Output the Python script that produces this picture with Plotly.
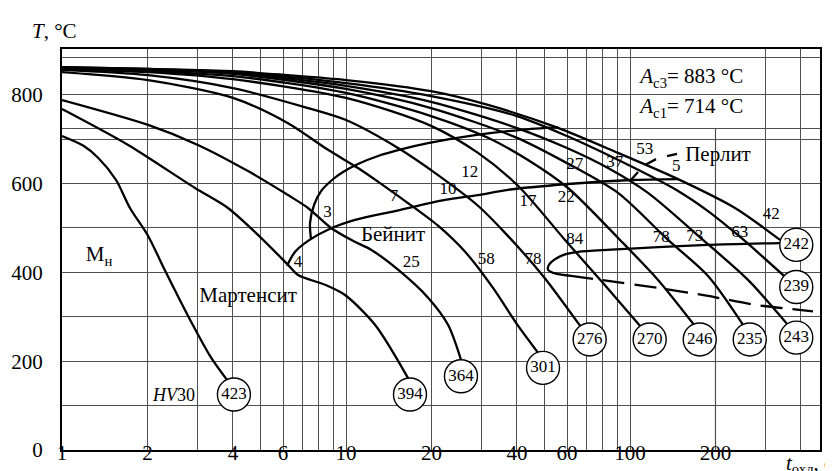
import math
import plotly.graph_objects as go

# ---------------- data ----------------
# cooling curves: time t (s) and temperature T (degC)
curve_A_t = [1.00, 1.19, 1.34, 1.55, 1.735, 2.01, 2.31, 2.80, 3.35, 3.81]
curve_A_T = [707, 685, 658, 608, 545, 482, 403, 298, 208, 158]
curve_B_t = [1.00, 1.71, 2.94, 3.84, 4.98, 6.25, 6.78, 8.44, 9.92, 12.65, 16.67]
curve_B_T = [768, 687, 590, 545, 480, 417, 394, 372, 349, 282, 158]
curve_C_t = [1.00, 2.01, 3.01, 4.52, 6.25, 7.35, 8.86, 10.58, 12.25, 15.25, 19.45, 22.87, 25.41]
curve_C_T = [788, 732, 687, 628, 574, 545, 500, 471, 451, 406, 343, 282, 203]
curve_D_t = [1.00, 2.01, 4.00, 6.25, 8.64, 11.02, 13.18, 16.53, 21.09, 26.46, 32.93, 40.33, 47.44]
curve_D_T = [851, 833, 793, 736, 676, 635, 601, 556, 505, 444, 365, 280, 219]
curve_E_t = [1.00, 2.01, 4.00, 7.35, 10.0, 15.25, 21.09, 29.16, 36.30, 49.40, 66.68]
curve_E_T = [856, 844, 815, 770, 743, 680, 619, 550, 489, 392, 280]
curve_F_t = [1.00, 2.01, 4.00, 10.0, 19.93, 29.16, 40.33, 59.04, 80.36, 108.4]
curve_F_T = [858, 851, 835, 793, 730, 669, 595, 473, 376, 280]
curve_G_t = [1.00, 2.01, 4.00, 10.0, 19.93, 31.62, 43.74, 60.49, 92.2, 125.5, 168.0]
curve_G_T = [860, 853, 842, 804, 752, 703, 653, 590, 473, 383, 282]
curve_H_t = [1.00, 2.01, 4.00, 10.0, 19.93, 40.0, 60.0, 90.73, 136.1, 188.2, 250.0]
curve_H_T = [860, 856, 847, 813, 770, 703, 646, 579, 473, 392, 282]
curve_I_t = [1.00, 2.01, 4.00, 10.0, 19.93, 40.0, 60.0, 83.68, 115.7, 180.7, 260.3, 357.1]
curve_I_T = [860, 856, 849, 820, 784, 725, 680, 635, 579, 473, 383, 284]
curve_J_t = [1.00, 2.01, 4.00, 10.0, 19.93, 40.0, 60.0, 100, 145.2, 188.2, 246.0, 348.6]
curve_J_T = [862, 858, 851, 826, 797, 752, 707, 640, 586, 538, 478, 392]
curve_K_t = [1.00, 2.01, 4.00, 6.25, 10.0, 19.93, 31.62, 54.88, 90.73, 147.6, 234.3, 337.5]
curve_K_T = [862, 858, 853, 844, 833, 808, 777, 727, 669, 610, 545, 473]

# transformation lines
ferrite_start_t = [7.53, 7.47, 7.72, 8.17, 8.93, 9.76, 11.02, 12.97, 15.87, 19.45, 28.46, 41.32, 55.79]
ferrite_start_T = [475, 511, 552, 583, 608, 626, 644, 662, 678, 691, 709, 721, 727]
bainite_start_t = [6.20, 6.61, 7.35, 8.64, 10.76, 14.88, 22.32, 29.16, 37.19, 60.49, 100.8, 147.6]
bainite_start_T = [415, 446, 471, 496, 518, 538, 563, 574, 586, 599, 608, 610]
bainite_end_t = [61.98, 54.88, 51.44, 51.86, 54.0, 58.08, 65.6, 85.74, 125.5, 188.2, 337.5]
bainite_end_T = [392, 397, 406, 417, 428, 439, 446, 451, 457, 462, 466]
pearlite_start_t = [100.8, 106.7, None, 112.9, 123.5, None, 135.0, 146.4]
pearlite_start_T = [608, 626, None, 642, 655, None, 662, 667]
dashed_t = [61.98, 83.68, 125.5, 188.2, 275.5, 441.0]
dashed_T = [392, 381, 365, 347, 327, 312]

# hardness HV30 circles
hv_values = [423, 394, 364, 301, 276, 270, 246, 235, 243, 239, 242]
hv_t = [4.03, 16.8, 25.4, 49.4, 72.1, 117.3, 176, 264, 385, 385, 385]
hv_T = [125, 125, 166, 185, 249, 249, 249, 249, 253, 367, 462]

# structure percentages written along the curves
pct_text = ['3', '4', '7', '10', '12', '25', '58', '17', '22', '27', '37', '53', '5',
            '84', '78', '78', '73', '63', '42']
pct_t = [8.60, 6.78, 14.76, 22.87, 27.27, 16.98, 31.19, 43.74, 59.66, 63.88, 88.33,
         112.7, 145.6, 63.88, 45.55, 128.9, 169.0, 243.4, 314.5]
pct_T = [534, 421, 571, 586, 624, 421, 429, 560, 568, 643, 646, 676, 637, 474, 429,
         478, 481, 489, 530]

region_text = ['Бейнит', 'Мартенсит', 'М<sub>н</sub>', 'Перлит']
region_t = [14.64, 4.52, 1.35, 204.1]
region_T = [482, 345, 437, 662]

ac_text = ['<i>A</i><sub>c3</sub>= 883 °C', '<i>A</i><sub>c1</sub>= 714 °C']
ac_t = [165, 165]
ac_T = [838, 770]

hv_label_t = [2.48]
hv_label_T = [120]

# axes
x_grid = [1, 2, 3, 4, 5, 6, 7, 8, 9, 10, 20, 30, 40, 50, 60, 70, 80, 90, 100, 300, 400]
x_labels = ['1', '2', ' ', '4', ' ', '6', ' ', ' ', ' ', '10', '20', ' ', '40', ' ', '60',
            ' ', ' ', ' ', '100', ' ', ' ']
x_short_grid_t = [200, 200]
x_short_grid_T = [0, 725]
y_grid = [0, 100, 200, 300, 400, 500, 600, 700, 725, 800, 883]
y_labels = ['0', ' ', '200', ' ', '400', ' ', '600', ' ', ' ', '800', ' ']
x_range_log = [0, 2.669]
y_range = [0, 903]

# ---------------- figure ----------------
SERIF = 'Liberation Serif'
GRID = '#505050'
fig = go.Figure()

fig.add_trace(go.Scatter(x=x_short_grid_t, y=x_short_grid_T, mode='lines',
                         line=dict(color=GRID, width=1.2), hoverinfo='skip'))

curves = [(curve_A_t, curve_A_T), (curve_B_t, curve_B_T), (curve_C_t, curve_C_T),
          (curve_D_t, curve_D_T), (curve_E_t, curve_E_T), (curve_F_t, curve_F_T),
          (curve_G_t, curve_G_T), (curve_H_t, curve_H_T), (curve_I_t, curve_I_T),
          (curve_J_t, curve_J_T), (curve_K_t, curve_K_T)]
for t, T in curves:
    fig.add_trace(go.Scatter(x=t, y=T, mode='lines',
                             line=dict(color='black', width=2.3, shape='spline', smoothing=0.8)))

for t, T in [(ferrite_start_t, ferrite_start_T), (bainite_start_t, bainite_start_T),
             (bainite_end_t, bainite_end_T)]:
    fig.add_trace(go.Scatter(x=t, y=T, mode='lines',
                             line=dict(color='black', width=2.3, shape='spline', smoothing=0.8)))

fig.add_trace(go.Scatter(x=pearlite_start_t, y=pearlite_start_T, mode='lines',
                         line=dict(color='black', width=2.3), connectgaps=False))
fig.add_trace(go.Scatter(x=dashed_t, y=dashed_T, mode='lines',
                         line=dict(color='black', width=2.3, dash='22px,10px',
                                   shape='spline', smoothing=0.6)))

fig.add_trace(go.Scatter(x=hv_t, y=hv_T, mode='markers+text',
                         marker=dict(symbol='circle', size=33, color='white',
                                     line=dict(color='black', width=1.4)),
                         text=[str(v) for v in hv_values], textposition='middle center',
                         textfont=dict(family=SERIF, size=17, color='black')))

fig.add_trace(go.Scatter(x=pct_t, y=pct_T, mode='text', text=pct_text,
                         textposition='middle center',
                         textfont=dict(family=SERIF, size=17, color='black')))
fig.add_trace(go.Scatter(x=region_t, y=region_T, mode='text', text=region_text,
                         textposition='middle center',
                         textfont=dict(family=SERIF, size=21, color='black')))
fig.add_trace(go.Scatter(x=ac_t, y=ac_T, mode='text', text=ac_text,
                         textposition='middle center',
                         textfont=dict(family=SERIF, size=21, color='black')))
fig.add_trace(go.Scatter(x=hv_label_t, y=hv_label_T, mode='text', text=['<i>HV</i>30'],
                         textposition='middle center',
                         textfont=dict(family=SERIF, size=18, color='black')))
# empty trace so the secondary (label-only) x axis is drawn
fig.add_trace(go.Scatter(x=[], y=[], xaxis='x2', hoverinfo='skip'))

tickfont = dict(family=SERIF, size=21, color='black')
fig.update_layout(
    width=833, height=471,
    margin=dict(l=54, r=21, t=41, b=29, autoexpand=False),
    paper_bgcolor='white', plot_bgcolor='white',
    showlegend=False,
    xaxis=dict(type='log', range=x_range_log, tickmode='array', tickvals=x_grid,
               ticktext=x_labels, showgrid=True, gridcolor=GRID, gridwidth=1.2,
               showline=True, mirror=True, linecolor='black', linewidth=2,
               ticks='', tickfont=tickfont, zeroline=False, automargin=False,
               tickangle=0, ticklabelstandoff=-17),
    xaxis2=dict(type='log', range=x_range_log, overlaying='x', side='bottom',
                tickmode='array', tickvals=[200], ticktext=['200'], showgrid=False,
                showline=False, ticks='', tickfont=tickfont, zeroline=False,
                automargin=False, tickangle=0, ticklabelstandoff=-12),
    yaxis=dict(range=y_range, tickmode='array', tickvals=y_grid, ticktext=y_labels,
               showgrid=True, gridcolor=GRID, gridwidth=1.2, showline=True, mirror=True,
               linecolor='black', linewidth=2, ticks='', tickfont=tickfont,
               zeroline=False, automargin=False, ticklabelstandoff=13),
    annotations=[
        dict(text='<i>T</i>, °C', xref='paper', yref='paper', x=-0.01, y=1.046,
             xanchor='center', yanchor='middle', showarrow=False,
             font=dict(family=SERIF, size=21, color='black')),
        dict(text='<i>t</i><sub>охл</sub>, с', xref='paper', yref='paper', x=0.952,
             y=-0.035, xanchor='left', yanchor='middle', showarrow=False,
             font=dict(family=SERIF, size=21, color='black')),
    ],
)

fig.write_html('out.html')
